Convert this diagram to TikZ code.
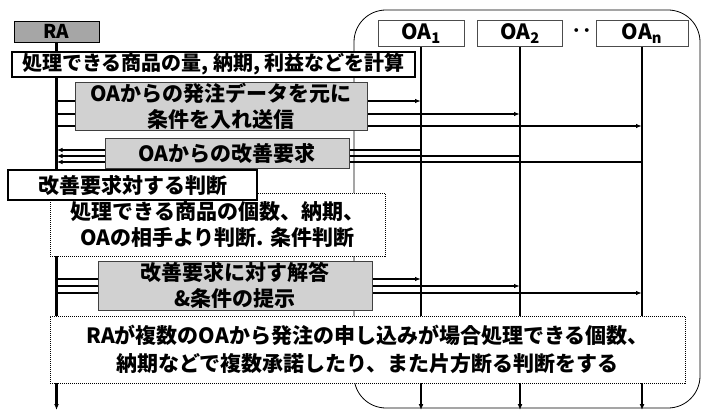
\documentclass[tikz,border=0pt]{standalone}
\usepackage{fontspec}
\setmainfont{Noto Sans CJK JP}
\usetikzlibrary{arrows.meta}

\begin{document}
\begin{tikzpicture}[x=1pt,y=-1pt,
    jfont/.style={font=\bfseries\fontsize{21}{26}\selectfont},
    procbox/.style={draw,line width=1.2pt,fill=white,jfont,inner sep=1pt},
    greybox/.style={draw=black!75,line width=0.8pt,fill=black!18,jfont,align=center,inner sep=1pt},
    dotbox/.style={draw,line width=1pt,densely dotted,fill=white,jfont,align=center,inner sep=1pt},
    oabox/.style={draw=black!70,line width=0.8pt,fill=white,jfont,minimum height=23pt},
    lifeline/.style={line width=2.2pt,-{Latex[length=6pt,width=5pt]}},
    msg/.style={line width=1.8pt,-{Latex[length=6pt,width=4.5pt]}}]
    \useasboundingbox (0,0) rectangle (704,417);
    % OA side
    \draw[line width=0.8pt,rounded corners=32pt] (354,10) rectangle (700,408);
    \node (ra) at (56.5,31.5) [draw,line width=0.8pt,fill=black!35,minimum width=85pt,minimum height=21pt,font=\bfseries\fontsize{19}{19}\selectfont] {RA};
    \node (oa1) at (421,33.5) [oabox,minimum width=86pt] {OA\textsubscript{1}};
    \node (oa2) at (520,33.5) [oabox,minimum width=85pt] {OA\textsubscript{2}};
    \node (oan) at (642,33.5) [oabox,minimum width=92pt] {OA\textsubscript{n}};
    \node (dots) at (582,33.5) [jfont] {‥};
    % lifelines
    \draw[lifeline] (ra.south) -- (ra.south |- 0,410);
    \draw[lifeline] (oa1.south) -- (oa1.south |- 0,410);
    \draw[lifeline] (oa2.south) -- (oa2.south |- 0,410);
    \draw[lifeline] (oan.south) -- (oan.south |- 0,410);
    % messages
    \foreach \y/\oa in {101/oa1,114/oa2,126/oan}
        \draw[msg] (ra |- 0,\y) -- (\oa |- 0,\y);
    \foreach \y/\oa in {150/oa1,156/oa2,162/oan}
        \draw[msg] (\oa |- 0,\y) -- (ra |- 0,\y);
    \foreach \y/\oa in {279/oa1,286/oa2,293/oan}
        \draw[msg] (ra |- 0,\y) -- (\oa |- 0,\y);
    % steps
    \node (calc) at (213.5,64.5) [procbox,minimum width=403pt,minimum height=25pt,font=\bfseries\fontsize{20}{20}\selectfont] {処理できる商品の量, 納期, 利益などを計算};
    \node (send) at (221,106.5) [greybox,minimum width=292pt,minimum height=47pt] {OAからの発注データを元に\\条件を入れ送信};
    \node (req) at (227,153) [greybox,minimum width=244pt,minimum height=30pt] {OAからの改善要求};
    \node (cond) at (217.5,224.5) [dotbox,minimum width=335pt,minimum height=63pt] {処理できる商品の個数、納期、\\OAの相手より判断. 条件判断};
    \node (judge) at (132.5,185) [procbox,minimum width=249pt,minimum height=30pt] {改善要求対する判断};
    \node (answer) at (235,285.5) [greybox,minimum width=274pt,minimum height=49pt] {改善要求に対す解答\\\&条件の提示};
    \node (multi) at (367.5,349.5) [dotbox,minimum width=635pt,minimum height=67pt,font=\bfseries\fontsize{21}{28}\selectfont] {RAが複数のOAから発注の申し込みが場合処理できる個数、\\納期などで複数承諾したり、また片方断る判断をする};
\end{tikzpicture}
\end{document}
